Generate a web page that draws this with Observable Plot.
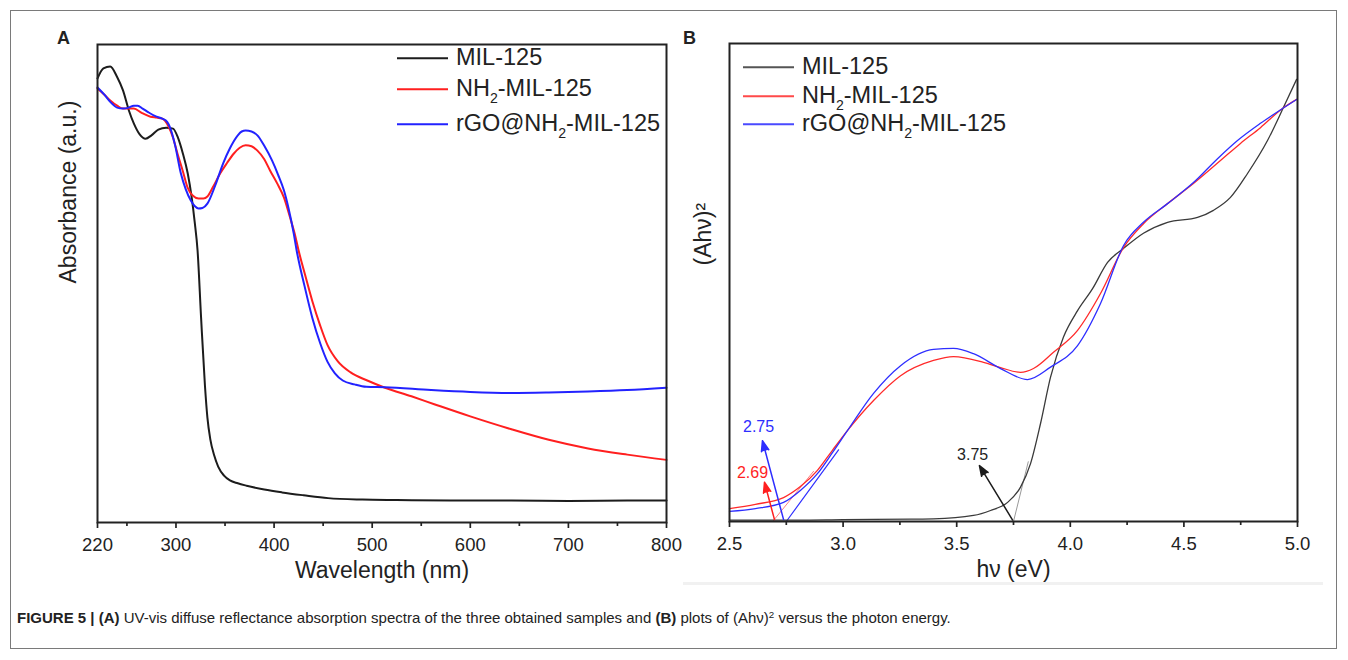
<!DOCTYPE html>
<html>
<head>
<meta charset="utf-8">
<script src="https://cdn.jsdelivr.net/npm/d3@7"></script>
<script src="https://cdn.jsdelivr.net/npm/@observablehq/plot@0.6"></script>
<style>
  html, body { margin: 0; padding: 0; background: #fff; }
  #fig { position: relative; width: 1348px; height: 660px; overflow: hidden; font-family: "Liberation Sans", Arial, sans-serif; color: #222; }
  #border { position: absolute; left: 10px; top: 10px; width: 1327px; height: 639px; border: 1.5px solid #7a7a7a; box-sizing: border-box; }
  .panel { position: absolute; top: 0; }
  .letter { position: absolute; font-weight: bold; font-size: 18px; line-height: 1; }
  .leg { position: absolute; display: flex; align-items: center; transform: translateY(-50%); white-space: nowrap; }
  .leg .sw { display: inline-block; height: 1.6px; margin-right: 8px; }
  .leg .lt { font-size: 23.5px; line-height: 1; color: #222; }
  .leg sub { font-size: 0.6em; vertical-align: -0.45em; line-height: 0; }
  #caption { position: absolute; left: 17px; top: 609px; font-family: "Liberation Sans Narrow", "Arial Narrow", "Liberation Sans", sans-serif; font-size: 15px; color: #222; white-space: nowrap; }
  #caption sup { font-size: 0.65em; vertical-align: 0.55em; line-height: 0; }
  #bgline { position: absolute; left: 683px; top: 582px; width: 640px; height: 3px; background: #f1f1f1; }
</style>
</head>
<body>
<div id="fig">
  <div id="border"></div>
  <div id="bgline"></div>
  <div id="panelA" class="panel" style="left:0px"></div>
  <div id="panelB" class="panel" style="left:680px"></div>
  <div class="letter" style="left:57px; top:29px">A</div>
  <div class="letter" style="left:683px; top:29px">B</div>
  <div id="legA"></div>
  <div id="legB"></div>
  <div id="caption"><b>FIGURE 5 | (A)</b> UV-vis diffuse reflectance absorption spectra of the three obtained samples and <b>(B)</b> plots of (Ahν)<sup>2</sup> versus the photon energy.</div>
</div>
<script>
// ---------- Panel A: UV-vis absorbance (arbitrary units, 0 = frame bottom, 1 = frame top) ----------
const wlBlack = [220,226,233,240,246,252,257,263,269,275,282,290,297,302,307,312,316,319,322,325.6,329.5,332,335,339,343,349,355,363,372,390,408,430,455,490,525,580,642,700,760,800];
const absBlack = [0.929,0.950,0.954,0.932,0.904,0.862,0.835,0.812,0.803,0.810,0.822,0.826,0.824,0.805,0.772,0.730,0.680,0.630,0.569,0.428,0.287,0.220,0.174,0.140,0.117,0.098,0.088,0.082,0.077,0.069,0.063,0.057,0.051,0.048,0.047,0.046,0.046,0.045,0.046,0.046];

const wlRed = [220,227,233,240,246,252,257,265,274,280,286,292,297,301.5,307,312,317,323,328,332,338,345,352,359,365,371,377,383,390,396,403,410,416,422,425,432,439,447,454.5,465,478,495,513,540,564,600,642,680,720,760,800];
const absRed = [0.908,0.895,0.883,0.872,0.866,0.866,0.866,0.857,0.849,0.847,0.845,0.830,0.805,0.772,0.735,0.700,0.684,0.678,0.678,0.682,0.703,0.730,0.752,0.772,0.784,0.789,0.787,0.778,0.760,0.736,0.710,0.680,0.640,0.596,0.569,0.515,0.463,0.412,0.371,0.337,0.314,0.297,0.282,0.264,0.247,0.222,0.195,0.173,0.155,0.142,0.131];

const wlBlue = [220,227,233,240,246,252,257,261,266,272,279,286,291,294,299,305,310,315,319,323,327,332,340,348,355,363,367,371,377,383,390,398,404,410,415,420,423,431,439,447,454.5,462,470,482,494,513,560,600,642,680,720,760,800];
const absBlue = [0.910,0.895,0.880,0.868,0.866,0.868,0.872,0.872,0.866,0.858,0.850,0.845,0.838,0.826,0.790,0.730,0.697,0.674,0.662,0.657,0.658,0.667,0.705,0.751,0.783,0.810,0.818,0.820,0.818,0.810,0.788,0.757,0.728,0.695,0.655,0.605,0.569,0.495,0.428,0.375,0.336,0.312,0.297,0.289,0.284,0.283,0.277,0.273,0.271,0.272,0.274,0.277,0.282];

const ticksA = [220,300,400,500,600,700,800];
const minorTicksA = [250,350,450,550,650,750];

// ---------- Panel B: (Ahν)^2 vs photon energy ----------
const evBlack = [2.5,2.8,3.0,3.3,3.398,3.574,3.649,3.724,3.781,3.825,3.869,3.913,3.970,4.032,4.098,4.164,4.234,4.322,4.428,4.560,4.630,4.705,4.780,4.868,4.938,4.996];
const ahvBlack = [0.003,0.003,0.004,0.005,0.0056,0.0126,0.023,0.040,0.072,0.121,0.205,0.302,0.386,0.441,0.487,0.542,0.571,0.603,0.626,0.636,0.651,0.678,0.728,0.797,0.866,0.925];

const evRed = [2.5,2.614,2.738,2.812,2.887,2.953,3.019,3.134,3.253,3.398,3.486,3.618,3.693,3.781,3.838,3.926,4.032,4.133,4.234,4.322,4.428,4.542,4.661,4.749,4.837,4.934,4.996];
const ahvRed = [0.027,0.036,0.050,0.073,0.107,0.149,0.190,0.253,0.305,0.337,0.345,0.333,0.322,0.312,0.320,0.354,0.400,0.477,0.573,0.623,0.665,0.707,0.755,0.791,0.824,0.864,0.883];

const evBlue = [2.5,2.614,2.738,2.812,2.887,2.953,3.019,3.134,3.253,3.398,3.486,3.574,3.693,3.812,3.913,4.032,4.133,4.234,4.322,4.428,4.542,4.648,4.736,4.837,4.934,4.996];
const ahvBlue = [0.021,0.027,0.040,0.065,0.100,0.144,0.190,0.268,0.326,0.360,0.362,0.351,0.320,0.297,0.323,0.368,0.456,0.577,0.626,0.665,0.709,0.759,0.797,0.833,0.864,0.883];

// Tangent (band-gap) extrapolation lines
const tanRedEV = [2.69, 2.87];   const tanRedY = [0, 0.105];
const tanBlueEV = [2.75, 2.98];  const tanBlueY = [0, 0.150];
const tanBlackEV = [3.75, 3.815]; const tanBlackY = [0, 0.125];

// Band-gap annotations (arrow start -> arrow head, label)
const gapLabels = ["2.69", "2.75", "3.75"];
const arrowFromEV = [2.698, 2.738, 3.746];
const arrowFromY  = [0.004, 0.004, 0.003];
const arrowToEV   = [2.654, 2.645, 3.600];
const arrowToY    = [0.082, 0.169, 0.117];
const labelEV     = [2.601, 2.628, 3.570];
const labelY      = [0.1025, 0.199, 0.140];

const ticksB = [2.5,3.0,3.5,4.0,4.5,5.0];
const minorTicksB = [2.75,3.25,3.75,4.25,4.75];

const seriesNames = ["MIL-125", "NH₂-MIL-125", "rGO@NH₂-MIL-125"];

// ---------- build tables ----------
const zip = (xs, ys) => xs.map((x, i) => ({x, y: ys[i]}));
const aBlack = zip(wlBlack, absBlack), aRed = zip(wlRed, absRed), aBlue = zip(wlBlue, absBlue);
const bBlack = zip(evBlack, ahvBlack), bRed = zip(evRed, ahvRed), bBlue = zip(evBlue, ahvBlue);
const arrows = gapLabels.map((t, i) => ({t, x1: arrowFromEV[i], y1: arrowFromY[i], x2: arrowToEV[i], y2: arrowToY[i], lx: labelEV[i], ly: labelY[i]}));

const FONT = "Liberation Sans, Arial, sans-serif";
const INK = "#222";

const plotA = Plot.plot({
  width: 680, height: 590,
  marginLeft: 97, marginRight: 14, marginTop: 44, marginBottom: 68,
  x: {domain: [220, 800], axis: null},
  y: {domain: [0, 1], axis: null},
  style: {fontFamily: FONT, color: INK, background: "transparent", overflow: "visible"},
  marks: [
    Plot.axisX({ticks: ticksA, tickSize: 6, tickPadding: 9, tickFormat: d => String(d), label: null, fontSize: 18.5, strokeWidth: 1.7}),
    Plot.axisX({ticks: minorTicksA, tickSize: 4, tickFormat: () => "", label: null, strokeWidth: 1.7}),
    Plot.line(aBlack, {x: "x", y: "y", stroke: "#1c1c1c", strokeWidth: 2, curve: "monotone-x"}),
    Plot.line(aRed, {x: "x", y: "y", stroke: "#ff1f1f", strokeWidth: 2, curve: "monotone-x"}),
    Plot.line(aBlue, {x: "x", y: "y", stroke: "#2222ff", strokeWidth: 2, curve: "monotone-x"}),
    Plot.frame({stroke: INK, strokeWidth: 2}),
    Plot.text(["Absorbance (a.u.)"], {frameAnchor: "left", dx: -29, rotate: -90, fontSize: 23, fill: INK}),
    Plot.text(["Wavelength (nm)"], {frameAnchor: "bottom", dy: 55, fontSize: 23, fill: INK})
  ]
});
document.getElementById("panelA").appendChild(plotA);

const arrowMark = (i, color) => Plot.arrow([arrows[i]], {x1: "x1", y1: "y1", x2: "x2", y2: "y2", stroke: color, fill: color, strokeWidth: 1.5, headLength: 11, headAngle: 40});
const labelMark = (i, color) => Plot.text([arrows[i]], {x: "lx", y: "ly", text: "t", fill: color, fontSize: 16});

const plotB = Plot.plot({
  width: 660, height: 590,
  marginLeft: 49, marginRight: 43, marginTop: 43, marginBottom: 69,
  x: {domain: [2.5, 5.0], axis: null},
  y: {domain: [0, 1], axis: null},
  style: {fontFamily: FONT, color: INK, background: "transparent", overflow: "visible"},
  marks: [
    Plot.axisX({ticks: ticksB, tickSize: 6, tickPadding: 9, tickFormat: d => d.toFixed(1), label: null, fontSize: 18.5, strokeWidth: 1.7}),
    Plot.axisX({ticks: minorTicksB, tickSize: 4, tickFormat: () => "", label: null, strokeWidth: 1.7}),
    Plot.line(zip(tanRedEV, tanRedY), {x: "x", y: "y", stroke: "#ff8080", strokeWidth: 1}),
    Plot.line(zip(tanBlueEV, tanBlueY), {x: "x", y: "y", stroke: "#3030ff", strokeWidth: 1.2}),
    Plot.line(zip(tanBlackEV, tanBlackY), {x: "x", y: "y", stroke: "#999", strokeWidth: 1}),
    Plot.line(bBlack, {x: "x", y: "y", stroke: "#3a3a3a", strokeWidth: 1.3, curve: "monotone-x"}),
    Plot.line(bRed, {x: "x", y: "y", stroke: "#ff2a2a", strokeWidth: 1.3, curve: "monotone-x"}),
    Plot.line(bBlue, {x: "x", y: "y", stroke: "#2e2eff", strokeWidth: 1.3, curve: "monotone-x"}),
    arrowMark(0, "#ff1f1f"), arrowMark(1, "#2e2eff"), arrowMark(2, "#1c1c1c"),
    labelMark(0, "#ff1f1f"), labelMark(1, "#2e2eff"), labelMark(2, "#222"),
    Plot.frame({stroke: INK, strokeWidth: 2}),
    Plot.text(["(Ahν)²"], {frameAnchor: "left", dx: -26, dy: -17, rotate: -90, fontSize: 23, fill: INK}),
    Plot.text(["hν (eV)"], {frameAnchor: "bottom", dy: 55, fontSize: 23, fill: INK})
  ]
});
document.getElementById("panelB").appendChild(plotB);

// ---------- legends (HTML overlays) ----------
const legendColorsA = ["#1c1c1c", "#ff1f1f", "#2222ff"];
const legendColorsB = ["#555", "#ff4a4a", "#4a4aff"];
function legendHTML(name) {
  return name.replace(/₂/g, "<sub>2</sub>");
}
function buildLegend(id, left, tops, colors) {
  const host = document.getElementById(id);
  seriesNames.forEach((name, i) => {
    const row = document.createElement("div");
    row.className = "leg";
    row.style.left = left + "px";
    row.style.top = tops[i] + "px";
    row.innerHTML = `<span class="sw" style="width:51px;background:${colors[i]}"></span><span class="lt">${legendHTML(name)}</span>`;
    host.appendChild(row);
  });
}
buildLegend("legA", 397, [58, 89, 124], legendColorsA);
buildLegend("legB", 743, [67, 96, 124], legendColorsB);
</script>
</body>
</html>
